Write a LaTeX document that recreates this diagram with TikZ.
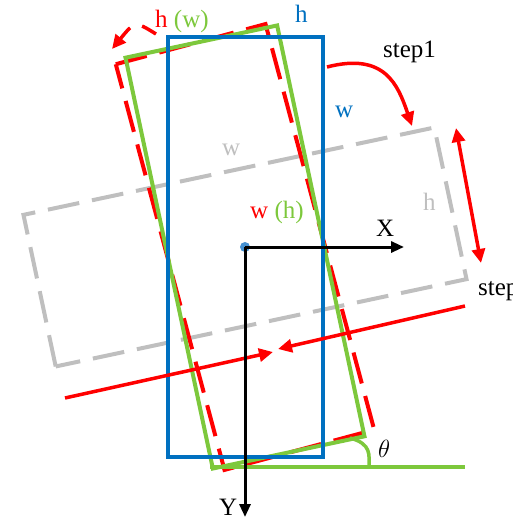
\documentclass[tikz,border=0pt]{standalone}
\usepackage{fontspec}
\setmainfont{Liberation Serif}
\usepackage{tikz}
\usetikzlibrary{arrows.meta}
\definecolor{boxblue}{RGB}{0,112,192}
\definecolor{dotblue}{RGB}{70,145,210}
\definecolor{boxgreen}{RGB}{125,200,60}
\definecolor{boxgray}{RGB}{191,191,191}
\tikzset{
  frame/.style={line width=4pt, line join=miter},
  dashframe/.style={frame, dash pattern=on 32pt off 13pt},
  arrow/.style={red, line width=3.5pt, -{Triangle[length=14pt, width=13pt]}},
  axis/.style={black, line width=3pt, -{Triangle[length=13pt, width=11pt]}},
  lbl/.style={anchor=base west, inner sep=0pt, font=\fontsize{25}{25}\selectfont}
}

\begin{document}
\begin{tikzpicture}[x=1pt, y=-1pt]
  \useasboundingbox (0,0) rectangle (513,519);

  % --- Rahmen um den Ursprung ---
  \begin{scope}[shift={(245,247)}]
    \draw [dashframe, boxgray, rotate=102] (-77.5,-210) -- (77.5,-210) -- (77.5,210) -- (-77.5,210) -- cycle;
    \draw [dashframe, red, rotate=15] (-77.5,-210) -- (77.5,-210) -- (77.5,210) -- (-77.5,210) -- cycle;
    \draw [frame, boxgreen, rotate=12] (-77.5,-210) -- (77.5,-210) -- (77.5,210) -- (-77.5,210) -- cycle;
    \draw [frame, boxblue] (-77.5,-210) rectangle (77.5,210);
  \end{scope}

  % --- Winkel theta ---
  \coordinate (gcorner) at (210,467);
  \coordinate (gend) at (465,467);
  \coordinate (arca) at (350,438);
  \coordinate (arcb) at (369,467);
  \draw [boxgreen, line width=4pt] (gcorner) -- (gend);
  \draw [boxgreen, line width=3.5pt] (arca) .. controls (372,444) and (369,455) .. (arcb);
  \node (theta) [lbl] at (378,457) {$\theta$};

  % --- Beschriftungen ---
  \node (hw) [lbl] at (155,28) {\textcolor{red}{h} \textcolor{boxgreen}{(w)}};
  \node (hblue) [lbl, text=boxblue] at (295,23) {h};
  \node (wblue) [lbl, text=boxblue] at (335,117) {w};
  \node (wgray) [lbl, text=boxgray] at (222,155) {w};
  \node (hgray) [lbl, text=boxgray] at (423,210) {h};
  \node (wh) [lbl] at (250,218) {\textcolor{red}{w} \textcolor{boxgreen}{(h)}};
  \node (step1) [lbl] at (383,57) {step1};
  \node (step2) [lbl] at (478,295) {step2};

  % --- Pfeile ---
  \coordinate (hstart) at (156,34);
  \coordinate (hend) at (112,49);
  \draw [arrow, dash pattern=on 16pt off 13pt] (hstart) .. controls (135,21) .. (hend);

  \coordinate (s1a) at (327,67);
  \coordinate (s1b) at (412,126);
  \draw [arrow] (s1a) .. controls (385,52) and (398,85) .. (s1b);

  \coordinate (d2a) at (456,128);
  \coordinate (d2b) at (481,263);
  \draw [arrow, {Triangle[length=14pt, width=13pt]}-{Triangle[length=14pt, width=13pt]}] (d2a) -- (d2b);

  \coordinate (la) at (65,398);
  \coordinate (lb) at (273,352);
  \coordinate (ra) at (465,306);
  \coordinate (rb) at (278,349);
  \draw [arrow] (la) -- (lb);
  \draw [arrow] (ra) -- (rb);

  % --- Achsen ---
  \node (o) [circle, fill=dotblue, inner sep=0pt, minimum size=10pt] at (245,247) {};
  \coordinate (xtip) at (404,247);
  \coordinate (ytip) at (245,517);
  \draw [axis] (o.center) -- (xtip);
  \draw [axis] (o.center) -- (ytip);
  \node (xl) [lbl] at (376,236) {X};
  \node (yl) [lbl] at (219,515) {Y};

\end{tikzpicture}
\end{document}
